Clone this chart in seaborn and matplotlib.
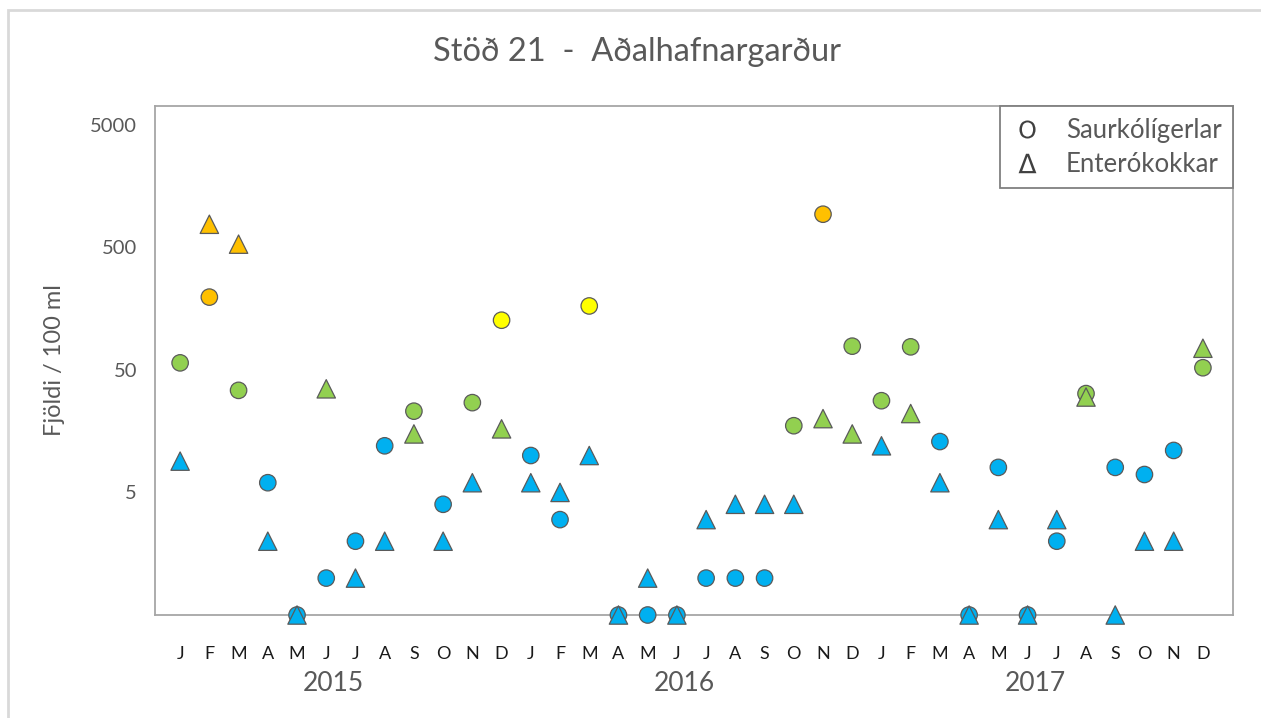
import numpy as np
import pandas as pd
import matplotlib
matplotlib.use('Agg')
import matplotlib.pyplot as plt
from matplotlib.lines import Line2D
from matplotlib.patches import Rectangle
import matplotlib.transforms as mtransforms
import seaborn as sns

# Data (values below detection plotted at 0.5)
months = ['J', 'F', 'M', 'A', 'M', 'J', 'J', 'A', 'S', 'O', 'N', 'D'] * 3
years = ['2015', '2016', '2017']
saurkoli = [57, 196, 34, 6, 0.5, 1, 2, 12, 23, 4, 27, 127,
            10, 3, 166, 0.5, 0.5, 0.5, 1, 1, 1, 17.5, 930, 78,
            28, 77, 13, 0.5, 8, 0.5, 2, 32, 8, 7, 11, 52]
enterokokkar = [9, 770, 530, 2, 0.5, 35, 1, 2, 15, 2, 6, 16.5,
                6, 5, 10, 0.5, 1, 0.5, 3, 4, 4, 4, 20, 15,
                12, 22, 6, 0.5, 3, 0.5, 3, 30, 0.5, 2, 2, 75]
flokkar = ['blar', 'graenn', 'gulur', 'appelsinugulur']
mork = [0, 14, 100, 180, np.inf]
litir = {'blar': '#00B0F0', 'graenn': '#92D050', 'gulur': '#FFFF00', 'appelsinugulur': '#FFC000'}


def to_frame(values, name):
    df = pd.DataFrame({'idx': np.arange(len(values)), 'gildi': values})
    df['flokkur'] = pd.cut(df['gildi'], bins=mork, labels=flokkar).astype(str)
    df['rod'] = name
    return df


df_s = to_frame(saurkoli, 'Saurkólígerlar')
df_e = to_frame(enterokokkar, 'Enterókokkar')

sns.set_style('white')
plt.rcParams['font.family'] = ['Lato', 'DejaVu Sans']

fig = plt.figure(figsize=(12.61, 7.18), dpi=100)
ax = fig.add_axes([155 / 1261, 1 - 615 / 718, (1233 - 155) / 1261, (615 - 106) / 718])

sns.scatterplot(data=df_s, x='idx', y='gildi', hue='flokkur', palette=litir, marker='o',
                s=140, edgecolor='#5a5a5a', linewidth=0.9, legend=False, ax=ax, zorder=3,
                clip_on=False)
sns.scatterplot(data=df_e, x='idx', y='gildi', hue='flokkur', palette=litir, marker='^',
                s=175, edgecolor='#5a5a5a', linewidth=0.9, legend=False, ax=ax, zorder=4,
                clip_on=False)

ax.set_yscale('log')
ax.set_ylim(0.5, 7100)
ax.set_xlim(-0.86, 36.03)
ax.set_yticks([5, 50, 500, 5000])
ax.set_yticklabels(['5', '50', '500', '5000'], fontsize=14.5, color='#595959')
ax.minorticks_off()
ax.set_xticks(np.arange(36))
ax.set_xticklabels(months, fontsize=13, color='#1a1a1a')
ax.tick_params(axis='x', length=0, pad=22)
ax.tick_params(axis='y', length=0, pad=13)
ax.set_xlabel('')
ax.set_ylabel('Fjöldi / 100 ml', fontsize=17, color='#595959', labelpad=18)

for side in ['left', 'right', 'top', 'bottom']:
    ax.spines[side].set_visible(True)
    ax.spines[side].set_color('#a6a6a6')
    ax.spines[side].set_linewidth(1.3)

# year labels below month letters
trans = mtransforms.blended_transform_factory(ax.transData, ax.transAxes)
for i, yr in enumerate(years):
    ax.text(5.25 + 12 * i, -0.134, yr, transform=trans, ha='center', va='center',
            fontsize=19, color='#595959')

fig.text(0.505, 1 - 52 / 718, 'Stöð 21  -  Aðalhafnargarður', ha='center', va='center',
         fontsize=23.5, color='#595959')

handles = [Line2D([], [], linestyle='none', marker=r'$\mathsf{O}$', markersize=13,
                  color='#404040', markeredgewidth=0),
           Line2D([], [], linestyle='none', marker=r'$\mathsf{\Delta}$', markersize=14,
                  color='#404040', markeredgewidth=0)]
leg = ax.legend(handles, ['Saurkólígerlar', 'Enterókokkar'], loc='upper right',
                bbox_to_anchor=(1, 1), borderaxespad=0, fancybox=False, framealpha=1,
                edgecolor='#808080', fontsize=18.5, labelcolor='#595959', handletextpad=0.9,
                borderpad=0.45, labelspacing=0.35, handlelength=1.2)
leg.get_frame().set_linewidth(1.3)

# light outer border of the chart area
fig.patches.append(Rectangle((8 / 1261, -0.05), 1.1, 1 - 10 / 718 + 0.05,
                             transform=fig.transFigure, fill=False,
                             edgecolor='#d9d9d9', linewidth=2))

fig.savefig('out.png', dpi=100)
